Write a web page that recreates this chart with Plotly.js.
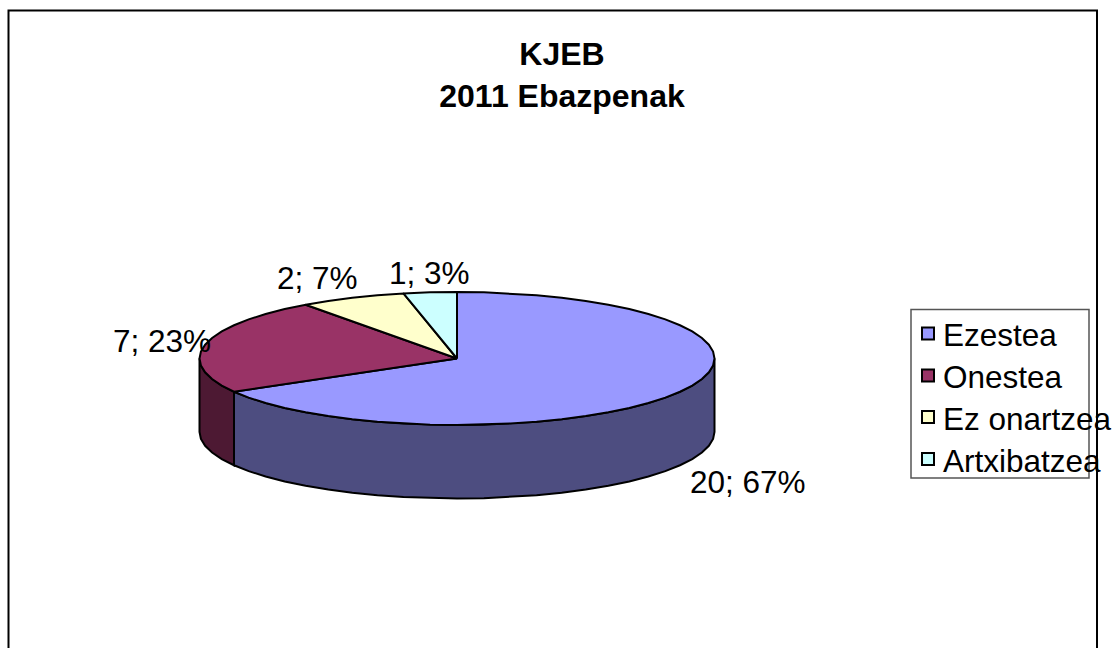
<!DOCTYPE html>
<html>
<head>
<meta charset="utf-8">
<script src="https://cdn.plot.ly/plotly-3.0.1.min.js"></script>
<style>html,body{margin:0;padding:0;background:#fff}#chart{width:1116px;height:648px}</style>
</head>
<body>
<div id="chart"></div>
<script>
const categories = ["Ezestea", "Onestea", "Ez onartzea", "Artxibatzea"];
const values = [20, 7, 2, 1];
const titleText = "KJEB<br>2011 Ebazpenak";

const topColors = ["#9999FF", "#993366", "#FFFFCC", "#CCFFFF"];
const wallColors = ["#4D4D80", "#4D1933", "#80805F", "#668080"];

// geometry of the tilted pie, in plot units (axes map 1:1 to the page)
const cx = 457, cy = 358.5, rx = 257.5, ry = 66.5, depth = 73.5, stepDeg = 6;
const labelAt = [[747.5, 482], [162, 341], [317, 278], [429, 273]];
const legendRowY = [333.5, 375.5, 417, 459];

const total = values.reduce((a, b) => a + b, 0);
const rad = d => d * Math.PI / 180;
const px = d => cx + rx * Math.sin(rad(d));
const py = (d, dz) => cy - ry * Math.cos(rad(d)) + (dz || 0);
function arc(a, b, dz) {
  const out = [];
  const n = Math.max(1, Math.round((b - a) / stepDeg));
  for (let i = 0; i <= n; i++) out.push(a + (b - a) * i / n);
  return { x: out.map(px), y: out.map(d => py(d, dz)) };
}
const lineStyle = { color: "#000", width: 2 };
const wallTraces = [], topTraces = [];
let start = 0;
values.forEach((v, i) => {
  const end = start + v / total * 360;
  // visible wall: part of the slice on the front half of the ellipse
  const a = Math.max(start, 90), b = Math.min(end, 270);
  if (b > a) {
    const up = arc(a, b, 0), down = arc(a, b, depth);
    wallTraces.push({
      type: "scatter", mode: "lines", fill: "toself", fillcolor: wallColors[i],
      x: up.x.concat(down.x.slice().reverse(), [up.x[0]]),
      y: up.y.concat(down.y.slice().reverse(), [up.y[0]]),
      line: lineStyle, hoverinfo: "skip", showlegend: false
    });
  }
  const t = arc(start, end, 0);
  topTraces.push({
    type: "scatter", mode: "lines", fill: "toself", fillcolor: topColors[i], name: categories[i],
    x: [cx].concat(t.x, [cx]),
    y: [cy].concat(t.y, [cy]),
    line: lineStyle, hoverinfo: "skip", showlegend: false
  });
  start = end;
});

const legendSwatches = {
  type: "scatter", mode: "markers",
  x: categories.map(() => 928), y: legendRowY,
  marker: { symbol: "square", size: 12, color: topColors, line: { color: "#000", width: 2 } },
  hoverinfo: "skip", showlegend: false
};

const font = { family: "Liberation Sans, Arial, sans-serif", color: "#000" };
const annotations = values.map((v, i) => ({
  xref: "x", yref: "y", x: labelAt[i][0], y: labelAt[i][1],
  text: v + "; " + Math.round(v / total * 100) + "%",
  showarrow: false, xanchor: "center", yanchor: "middle",
  font: Object.assign({ size: 31.5 }, font)
})).concat(categories.map((c, i) => ({
  xref: "x", yref: "y", x: 942.5, y: legendRowY[i] + 1.5,
  text: c, showarrow: false, xanchor: "left", yanchor: "middle",
  xshift: 0, borderpad: 0, borderwidth: 0,
  font: Object.assign({ size: 31.5 }, font)
})));

const layout = {
  width: 1116, height: 648, autosize: false,
  margin: { l: 0, r: 0, t: 0, b: 0, pad: 0 },
  paper_bgcolor: "#fff", plot_bgcolor: "#fff",
  showlegend: false,
  title: {
    text: titleText, x: 562 / 1116, xanchor: "center", xref: "paper",
    y: 1 - 65 / 648, yanchor: "top", yref: "paper",
    font: Object.assign({ size: 32, weight: 700 }, font)
  },
  xaxis: { range: [0, 1116], visible: false, fixedrange: true },
  yaxis: { range: [648, 0], visible: false, fixedrange: true },
  shapes: [
    { type: "rect", xref: "x", yref: "y", x0: 8.5, x1: 1097, y0: 10.5, y1: 652, layer: "below",
      line: { color: "#000", width: 2 }, fillcolor: "rgba(0,0,0,0)" },
    { type: "rect", xref: "x", yref: "y", x0: 911, x1: 1089, y0: 309.5, y1: 478, layer: "below",
      line: { color: "#555", width: 1.5 }, fillcolor: "rgba(0,0,0,0)" }
  ],
  annotations: annotations
};
Plotly.newPlot("chart", wallTraces.concat(topTraces, [legendSwatches]), layout, { displayModeBar: false, staticPlot: true });
</script>
</body>
</html>
